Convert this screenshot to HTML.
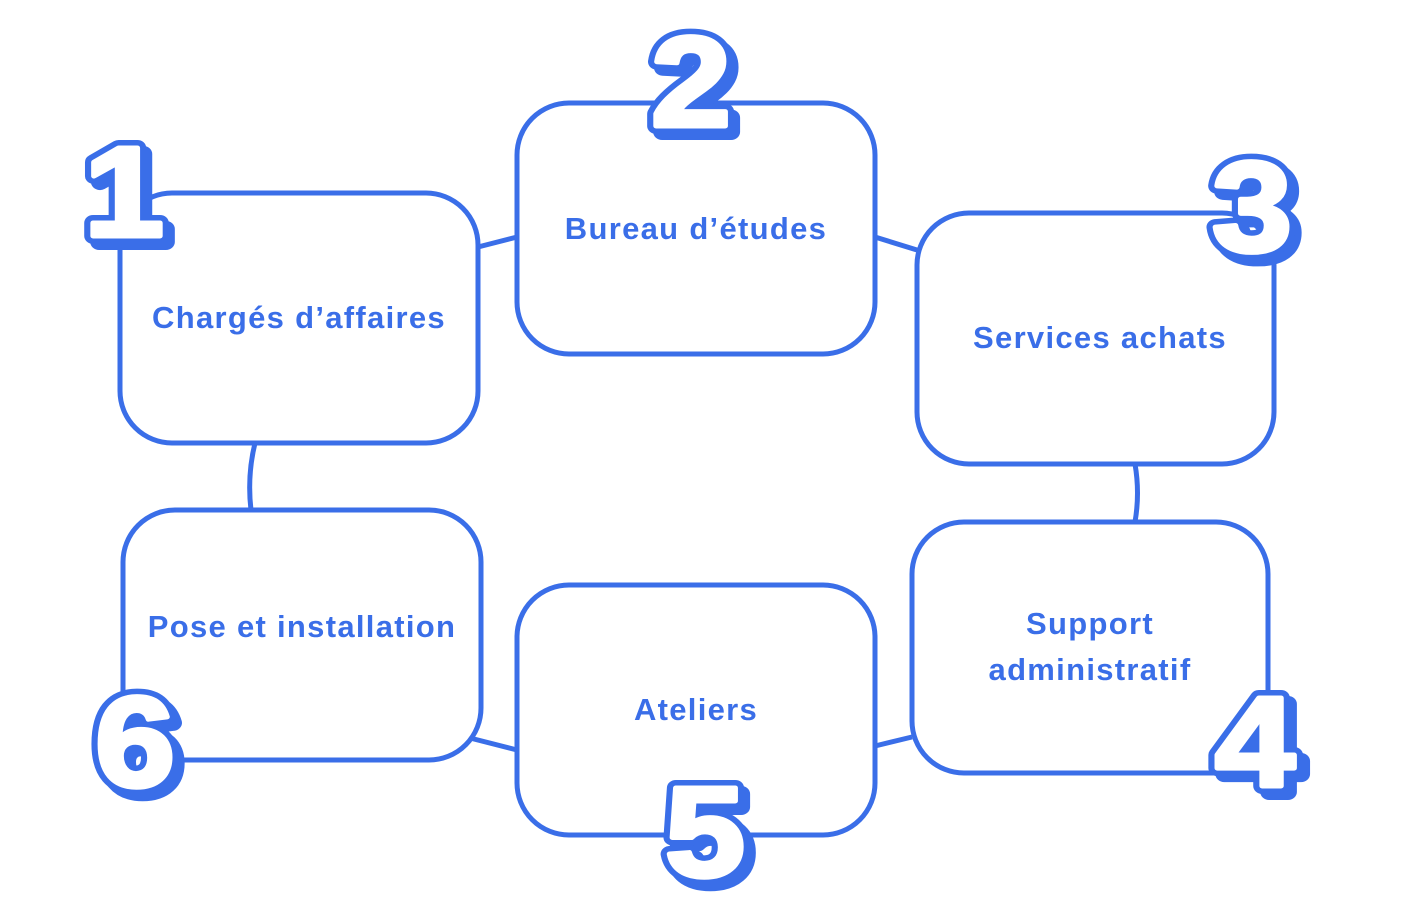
<!DOCTYPE html>
<html><head><meta charset="utf-8"><style>
html,body{margin:0;padding:0;background:#fff;}
svg{display:block;}
.lbl{font-family:"Liberation Sans",sans-serif;font-weight:bold;font-size:31px;letter-spacing:1.3px;fill:#3a6ee8;text-anchor:middle;}
.sh{font-family:"Liberation Sans",sans-serif;font-weight:bold;font-size:128px;fill:#3a6ee8;stroke:#3a6ee8;stroke-width:16;stroke-linejoin:round;text-anchor:middle;}
.nb{font-family:"Liberation Sans",sans-serif;font-weight:bold;font-size:128px;fill:#3a6ee8;stroke:#3a6ee8;stroke-width:16;stroke-linejoin:round;text-anchor:middle;}
.nw{font-family:"Liberation Sans",sans-serif;font-weight:bold;font-size:128px;fill:#fff;stroke:#fff;stroke-width:5;stroke-linejoin:round;text-anchor:middle;}
</style></head><body>
<svg width="1414" height="899" viewBox="0 0 1414 899">
<defs>
<g id="d1"><text x="0" y="0">1</text></g>
</defs>
<g fill="none" stroke="#3a6ee8" stroke-width="5">
<line x1="478" y1="247" x2="517" y2="237"/>
<line x1="875" y1="237" x2="917" y2="250"/>
<path d="M1135 464 Q1140 493 1135 522"/>
<path d="M255 443 Q247 476 251 510"/>
<line x1="470" y1="738" x2="517" y2="750"/>
<line x1="875" y1="746" x2="912" y2="737"/>
<rect x="120" y="193" width="358" height="250" rx="52"/>
<rect x="517" y="103" width="358" height="251" rx="52"/>
<rect x="917" y="213" width="357" height="251" rx="52"/>
<rect x="912" y="522" width="356" height="251" rx="52"/>
<rect x="517" y="585" width="358" height="250" rx="52"/>
<rect x="123" y="510" width="358" height="250" rx="52"/>
</g>
<text class="lbl" x="299" y="328">Chargés d’affaires</text>
<text class="lbl" x="696" y="239">Bureau d’études</text>
<text class="lbl" x="1100" y="348">Services achats</text>
<text class="lbl" x="1090" y="634">Support</text>
<text class="lbl" x="1090" y="680">administratif</text>
<text class="lbl" x="696" y="720">Ateliers</text>
<text class="lbl" x="302" y="637">Pose et installation</text>

<g transform="translate(130,242) scale(1.12,1)"><text class="sh">1</text></g>
<g transform="translate(124,236) scale(1.12,1)"><text class="nb">1</text><text class="nw">1</text></g>

<g transform="translate(697,132) scale(1.12,1)"><text class="sh">2</text></g>
<g transform="translate(691,126) scale(1.12,1)"><text class="nb">2</text><text class="nw">2</text></g>

<g transform="translate(1258,257) scale(1.12,1)"><text class="sh">3</text></g>
<g transform="translate(1252,251) scale(1.12,1)"><text class="nb">3</text><text class="nw">3</text></g>

<g transform="translate(1262,792) scale(1.12,1)"><text class="sh">4</text></g>
<g transform="translate(1255,786) scale(1.12,1)"><text class="nb">4</text><text class="nw">4</text></g>

<g transform="translate(711,882) scale(1.12,1)"><text class="sh">5</text></g>
<g transform="translate(705,876) scale(1.12,1)"><text class="nb">5</text><text class="nw">5</text></g>

<g transform="translate(141,792) scale(1.12,1)"><text class="sh">6</text></g>
<g transform="translate(135,786) scale(1.12,1)"><text class="nb">6</text><text class="nw">6</text></g>
</svg>
</body></html>
